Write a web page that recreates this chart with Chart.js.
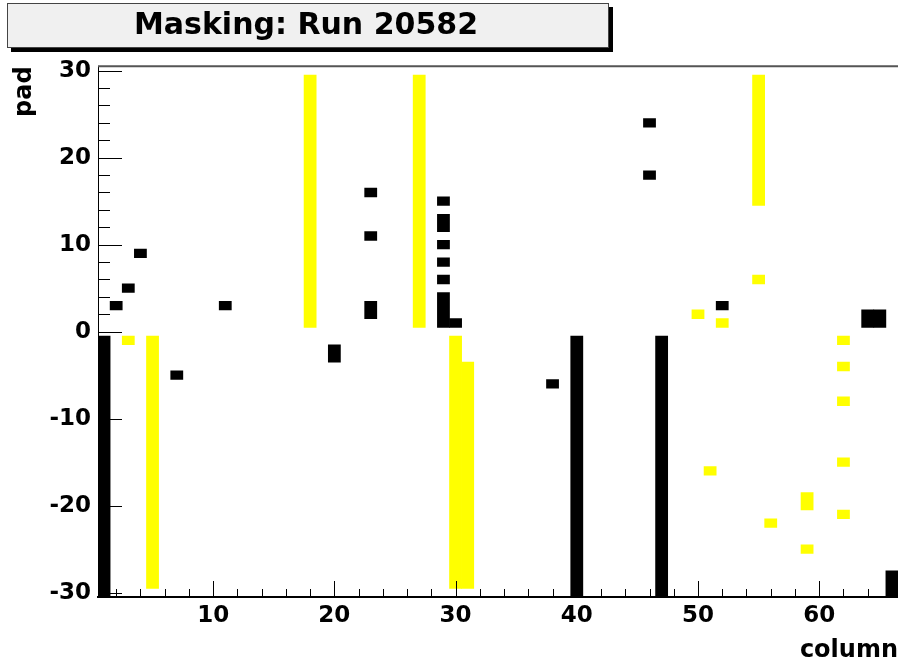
<!DOCTYPE html>
<html>
<head>
<meta charset="utf-8">
<title>Masking: Run 20582</title>
<script src="https://cdn.jsdelivr.net/npm/chart.js@4.4.0/dist/chart.umd.min.js"></script>
<style>
  html, body { margin: 0; padding: 0; background: #fff; }
  canvas { display: block; }
</style>
</head>
<body>
<canvas id="mask" width="898" height="664"></canvas>
<script>
const runTitle = "Masking: Run 20582"

// masked channels, as runs of pads: [column, first pad, last pad]
const blackRuns = [
  [1, -30, -1], [2, 3, 3], [3, 5, 5], [4, 9, 9], [7, -5, -5], [11, 3, 3],
  [20, -3, -2],
  [23, 16, 16], [23, 11, 11], [23, 2, 3],
  [29, 15, 15], [29, 12, 13], [29, 10, 10], [29, 8, 8], [29, 6, 6], [29, 1, 4],
  [30, 1, 1], [38, -6, -6], [40, -30, -1],
  [46, 24, 24], [46, 18, 18], [47, -30, -1], [52, 3, 3],
  [64, 1, 2], [65, 1, 2], [66, -30, -28]
]
const yellowRuns = [
  [3, -1, -1], [5, -29, -1], [18, 1, 29], [27, 1, 29],
  [30, -29, -1], [31, -29, -4],
  [50, 2, 2], [51, -16, -16], [52, 1, 1],
  [55, 15, 29], [55, 6, 6], [56, -22, -22],
  [59, -20, -19], [59, -25, -25],
  [62, -1, -1], [62, -4, -4], [62, -8, -8], [62, -15, -15], [62, -21, -21]
]

const columnRange = [0.5, 66.5]
const padRange = [-30.5, 30.5]
const columnTicks = [10, 20, 30, 40, 50, 60]
const padTicks = [-30, -20, -10, 0, 10, 20, 30]
const minorStep = 2

// a run covers whole bins, so widen it by half a pad each side
function toBars(runs){
  return runs.map(r => ({x: r[0], y: [r[1] - 0.5, r[2] + 0.5]}))
}

Chart.defaults.font.family = "'DejaVu Sans', sans-serif"
Chart.defaults.font.weight = 'bold'
Chart.defaults.color = '#000'

const rootStyle = {
  id: 'rootStyle',
  beforeDraw(chart){
    const ctx = chart.ctx
    ctx.save()
    // title pave with its drop shadow
    ctx.fillStyle = '#000'
    ctx.fillRect(11, 48, 602, 4)
    ctx.fillRect(609, 7, 4, 45)
    ctx.fillStyle = '#f0f0f0'
    ctx.fillRect(7, 3, 602, 45)
    ctx.strokeStyle = '#444'
    ctx.lineWidth = 1
    ctx.strokeRect(7.5, 3.5, 601, 44)
    ctx.fillStyle = '#000'
    ctx.font = "bold 30px 'DejaVu Sans'"
    ctx.textAlign = 'center'
    ctx.textBaseline = 'middle'
    ctx.fillText(runTitle, 306, 26)
    ctx.restore()
  },
  afterDatasetsDraw(chart){
    const {ctx, chartArea: a, scales: {x, y}} = chart
    ctx.save()
    ctx.strokeStyle = '#555'
    ctx.lineWidth = 2
    ctx.beginPath()
    ctx.moveTo(a.left, a.top)
    ctx.lineTo(a.right, a.top)
    ctx.stroke()

    // ticks point into the frame, long on the labelled values
    ctx.strokeStyle = '#000'
    ctx.lineWidth = 1
    ctx.beginPath()
    for (let v = -30; v <= 30; v += minorStep){
      const py = Math.round(y.getPixelForValue(v)) + 0.5
      const len = v % 10 === 0 ? 24 : 12
      ctx.moveTo(a.left, py)
      ctx.lineTo(a.left + len, py)
    }
    for (let v = minorStep; v <= 66; v += minorStep){
      const px = Math.round(x.getPixelForValue(v)) + 0.5
      const len = v % 10 === 0 ? 16 : 8
      ctx.moveTo(px, a.bottom)
      ctx.lineTo(px, a.bottom - len)
    }
    ctx.stroke()
    ctx.restore()
  }
}

const ctx = document.getElementById('mask').getContext('2d')

const chart = new Chart(ctx, {
  type: 'bar',
  data: {
    datasets: [
      {
        label: 'black',
        data: toBars(blackRuns),
        backgroundColor: '#000000',
        borderWidth: 0,
        grouped: false,
        barPercentage: 1,
        categoryPercentage: 1
      },
      {
        label: 'yellow',
        data: toBars(yellowRuns),
        backgroundColor: '#ffff00',
        borderWidth: 0,
        grouped: false,
        barPercentage: 1,
        categoryPercentage: 1
      }
    ]
  },
  options: {
    responsive: false,
    animation: false,
    layout: {padding: {top: 66.35, right: 0, bottom: 0, left: 0}},
    plugins: {
      legend: {display: false},
      tooltip: {enabled: false}
    },
    scales: {
      x: {
        type: 'linear',
        offset: false,
        min: columnRange[0],
        max: columnRange[1],
        grid: {display: false, drawTicks: false},
        border: {display: true, color: '#000', width: 2},
        afterBuildTicks: s => { s.ticks = columnTicks.map(v => ({value: v})) },
        afterFit: s => { s.height = 67 },
        ticks: {font: {size: 23, weight: 'bold'}, padding: 5, maxRotation: 0},
        title: {
          display: true, text: 'column', align: 'end',
          font: {size: 24, weight: 'bold', lineHeight: 1},
          padding: {top: 0, bottom: 1}
        }
      },
      y: {
        type: 'linear',
        min: padRange[0],
        max: padRange[1],
        grid: {display: false, drawTicks: false},
        border: {display: true, color: '#000', width: 1},
        afterBuildTicks: s => { s.ticks = padTicks.map(v => ({value: v})) },
        afterFit: s => { s.width = 98 },
        ticks: {font: {size: 23, weight: 'bold'}, padding: 7},
        title: {
          display: true, text: 'pad', align: 'end',
          font: {size: 24, weight: 'bold', lineHeight: 1},
          padding: {top: 13, bottom: 0}
        }
      }
    }
  },
  plugins: [rootStyle]
})
</script>
</body>
</html>
